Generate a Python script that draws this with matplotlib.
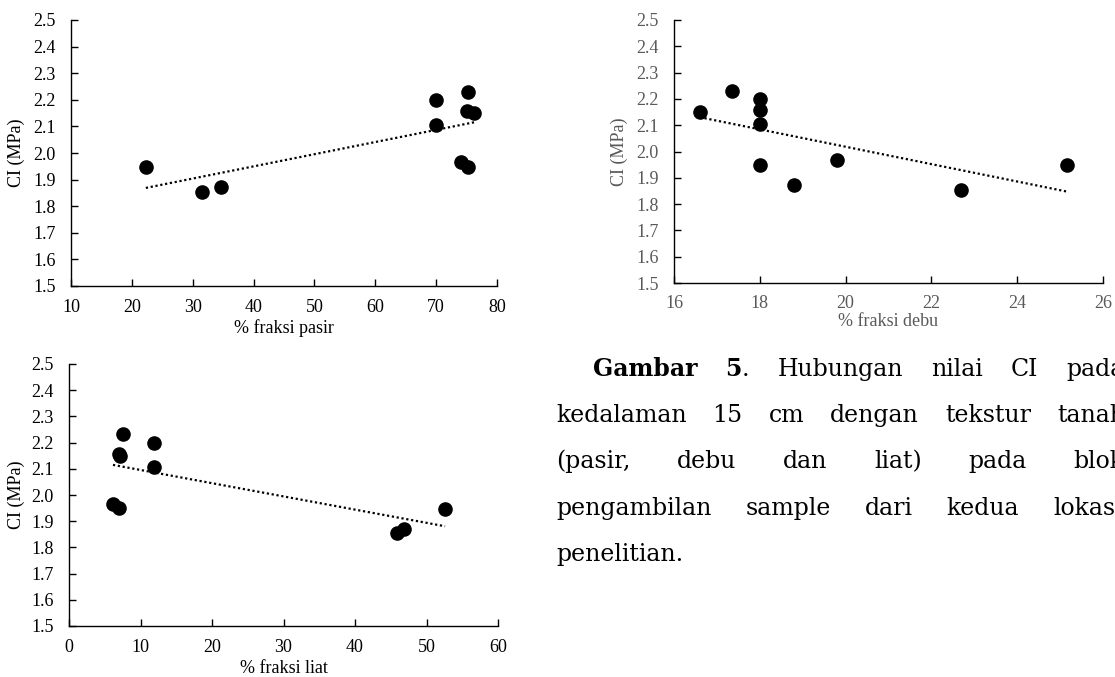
import matplotlib
matplotlib.use("Agg")
import matplotlib.pyplot as plt
import numpy as np

# ---- data ----
ci = [2.231, 2.158, 2.150, 2.198, 2.105, 1.967, 1.949, 1.947, 1.855, 1.871]
pasir = [75.3, 75.05, 76.3, 69.9, 69.9, 74.1, 75.2, 22.3, 31.5, 34.6]
debu = [17.36, 18.0, 16.6, 18.0, 18.0, 19.81, 18.0, 25.15, 22.7, 18.8]
liat = [7.5, 7.0, 7.2, 11.9, 11.9, 6.15, 7.0, 52.6, 45.9, 46.8]

ylabel = "CI (MPa)"
xlabels = ["% fraksi pasir", "% fraksi debu", "% fraksi liat"]
xticks_pasir = [10, 20, 30, 40, 50, 60, 70, 80]
xticks_debu = [16, 18, 20, 22, 24, 26]
xticks_liat = [0, 10, 20, 30, 40, 50, 60]
yticks = [1.5, 1.6, 1.7, 1.8, 1.9, 2.0, 2.1, 2.2, 2.3, 2.4, 2.5]

caption_lines = [
    ["Gambar", "5", "Hubungan", "nilai", "CI", "pada"],
    ["kedalaman", "15", "cm", "dengan", "tekstur", "tanah"],
    ["(pasir,", "debu", "dan", "liat)", "pada", "blok"],
    ["pengambilan", "sample", "dari", "kedua", "lokasi"],
    ["penelitian."],
]

W, H = 1115, 677
fig = plt.figure(figsize=(W / 100, H / 100), dpi=100)
fig.patch.set_facecolor("white")

chart_font = "Liberation Serif"
FS = 13


def make_ax(rect_px, x, xt, xlab, color, xlabel_y, ylabel_cx):
    l, t, r, b = rect_px
    ax = fig.add_axes([l / W, (H - b) / H, (r - l) / W, (b - t) / H])
    ax.scatter(x, ci, s=90, color="black", zorder=3, clip_on=False)
    k, c0 = np.polyfit(x, ci, 1)
    xs = np.array([min(x), max(x)])
    ax.plot(xs, k * xs + c0, linestyle=(0, (1, 1.2)), color="black", linewidth=1.6)
    ax.set_xlim(xt[0], xt[-1])
    ax.set_ylim(1.5, 2.5)
    ax.set_xticks(xt)
    ax.set_yticks(yticks)
    ax.set_yticklabels([f"{v:.1f}" for v in yticks])
    for s in ["top", "right"]:
        ax.spines[s].set_visible(False)
    for s in ["left", "bottom"]:
        ax.spines[s].set_linewidth(1.0)
        ax.spines[s].set_color("black")
    ax.tick_params(axis="both", direction="in", length=5, width=1.0,
                   labelsize=FS, labelcolor=color, colors="black")
    ax.tick_params(axis="x", pad=9)
    ax.tick_params(axis="y", pad=11)
    for lab in ax.get_xticklabels() + ax.get_yticklabels():
        lab.set_fontfamily(chart_font)
        lab.set_color(color)
    ax.set_xlabel(xlab, fontsize=FS, family=chart_font, color=color)
    ax.set_ylabel(ylabel, fontsize=FS, family=chart_font, color=color)
    ax.xaxis.set_label_coords(0.5, xlabel_y)
    ax.yaxis.set_label_coords((ylabel_cx - l) / (r - l), 0.5)
    ax.yaxis.label.set_verticalalignment("center")
    ax.set_facecolor("none")
    return ax


make_ax((71, 20, 497, 286), pasir, xticks_pasir, xlabels[0], "black", -0.125, 16)
make_ax((674, 20, 1103, 283), debu, xticks_debu, xlabels[1], "#595959", -0.115, 619)
make_ax((69, 364, 498, 626), liat, xticks_liat, xlabels[2], "black", -0.128, 16)

# ---- caption (justified text, clipped at the right edge as in the source) ----
cap_font = "DejaVu Serif"
CFS = 17
renderer = fig.canvas.get_renderer()

baselines = [376, 422, 468, 515, 561]
left_x = [593, 556, 556, 556, 556]
last_x = [1066, 1057, 1073, 1053, None]


def put(word, x, yb, weight="normal"):
    t = fig.text(x / W, (H - yb) / H, word, fontsize=CFS, family=cap_font,
                 weight=weight, va="baseline", ha="left", color="black")
    return t


for i, words in enumerate(caption_lines):
    yb = baselines[i]
    texts = []
    widths = []
    for j, w in enumerate(words):
        weight = "bold" if (i == 0 and j < 2) else "normal"
        t = put(w, 0, yb, weight)
        if i == 0 and j == 1:
            wb = t.get_window_extent(renderer).width
            dot = put(".", 0, yb)
            wd = dot.get_window_extent(renderer).width
            texts.append([t, dot, wb])
            widths.append(wb + wd)
        else:
            texts.append([t])
            widths.append(t.get_window_extent(renderer).width)
    n = len(words)
    if n == 1:
        positions = [left_x[i]]
    else:
        start = left_x[i]
        end = last_x[i]
        inner = sum(widths[:-1])
        gap = (end - start - inner) / (n - 1)
        positions = []
        x = start
        for j in range(n):
            positions.append(x)
            x += widths[j] + gap
        positions[-1] = end
    for j, item in enumerate(texts):
        x = positions[j]
        item[0].set_position((x / W, (H - yb) / H))
        if len(item) == 3:
            item[1].set_position(((x + item[2]) / W, (H - yb) / H))

fig.savefig("out.png", dpi=100, facecolor="white")
